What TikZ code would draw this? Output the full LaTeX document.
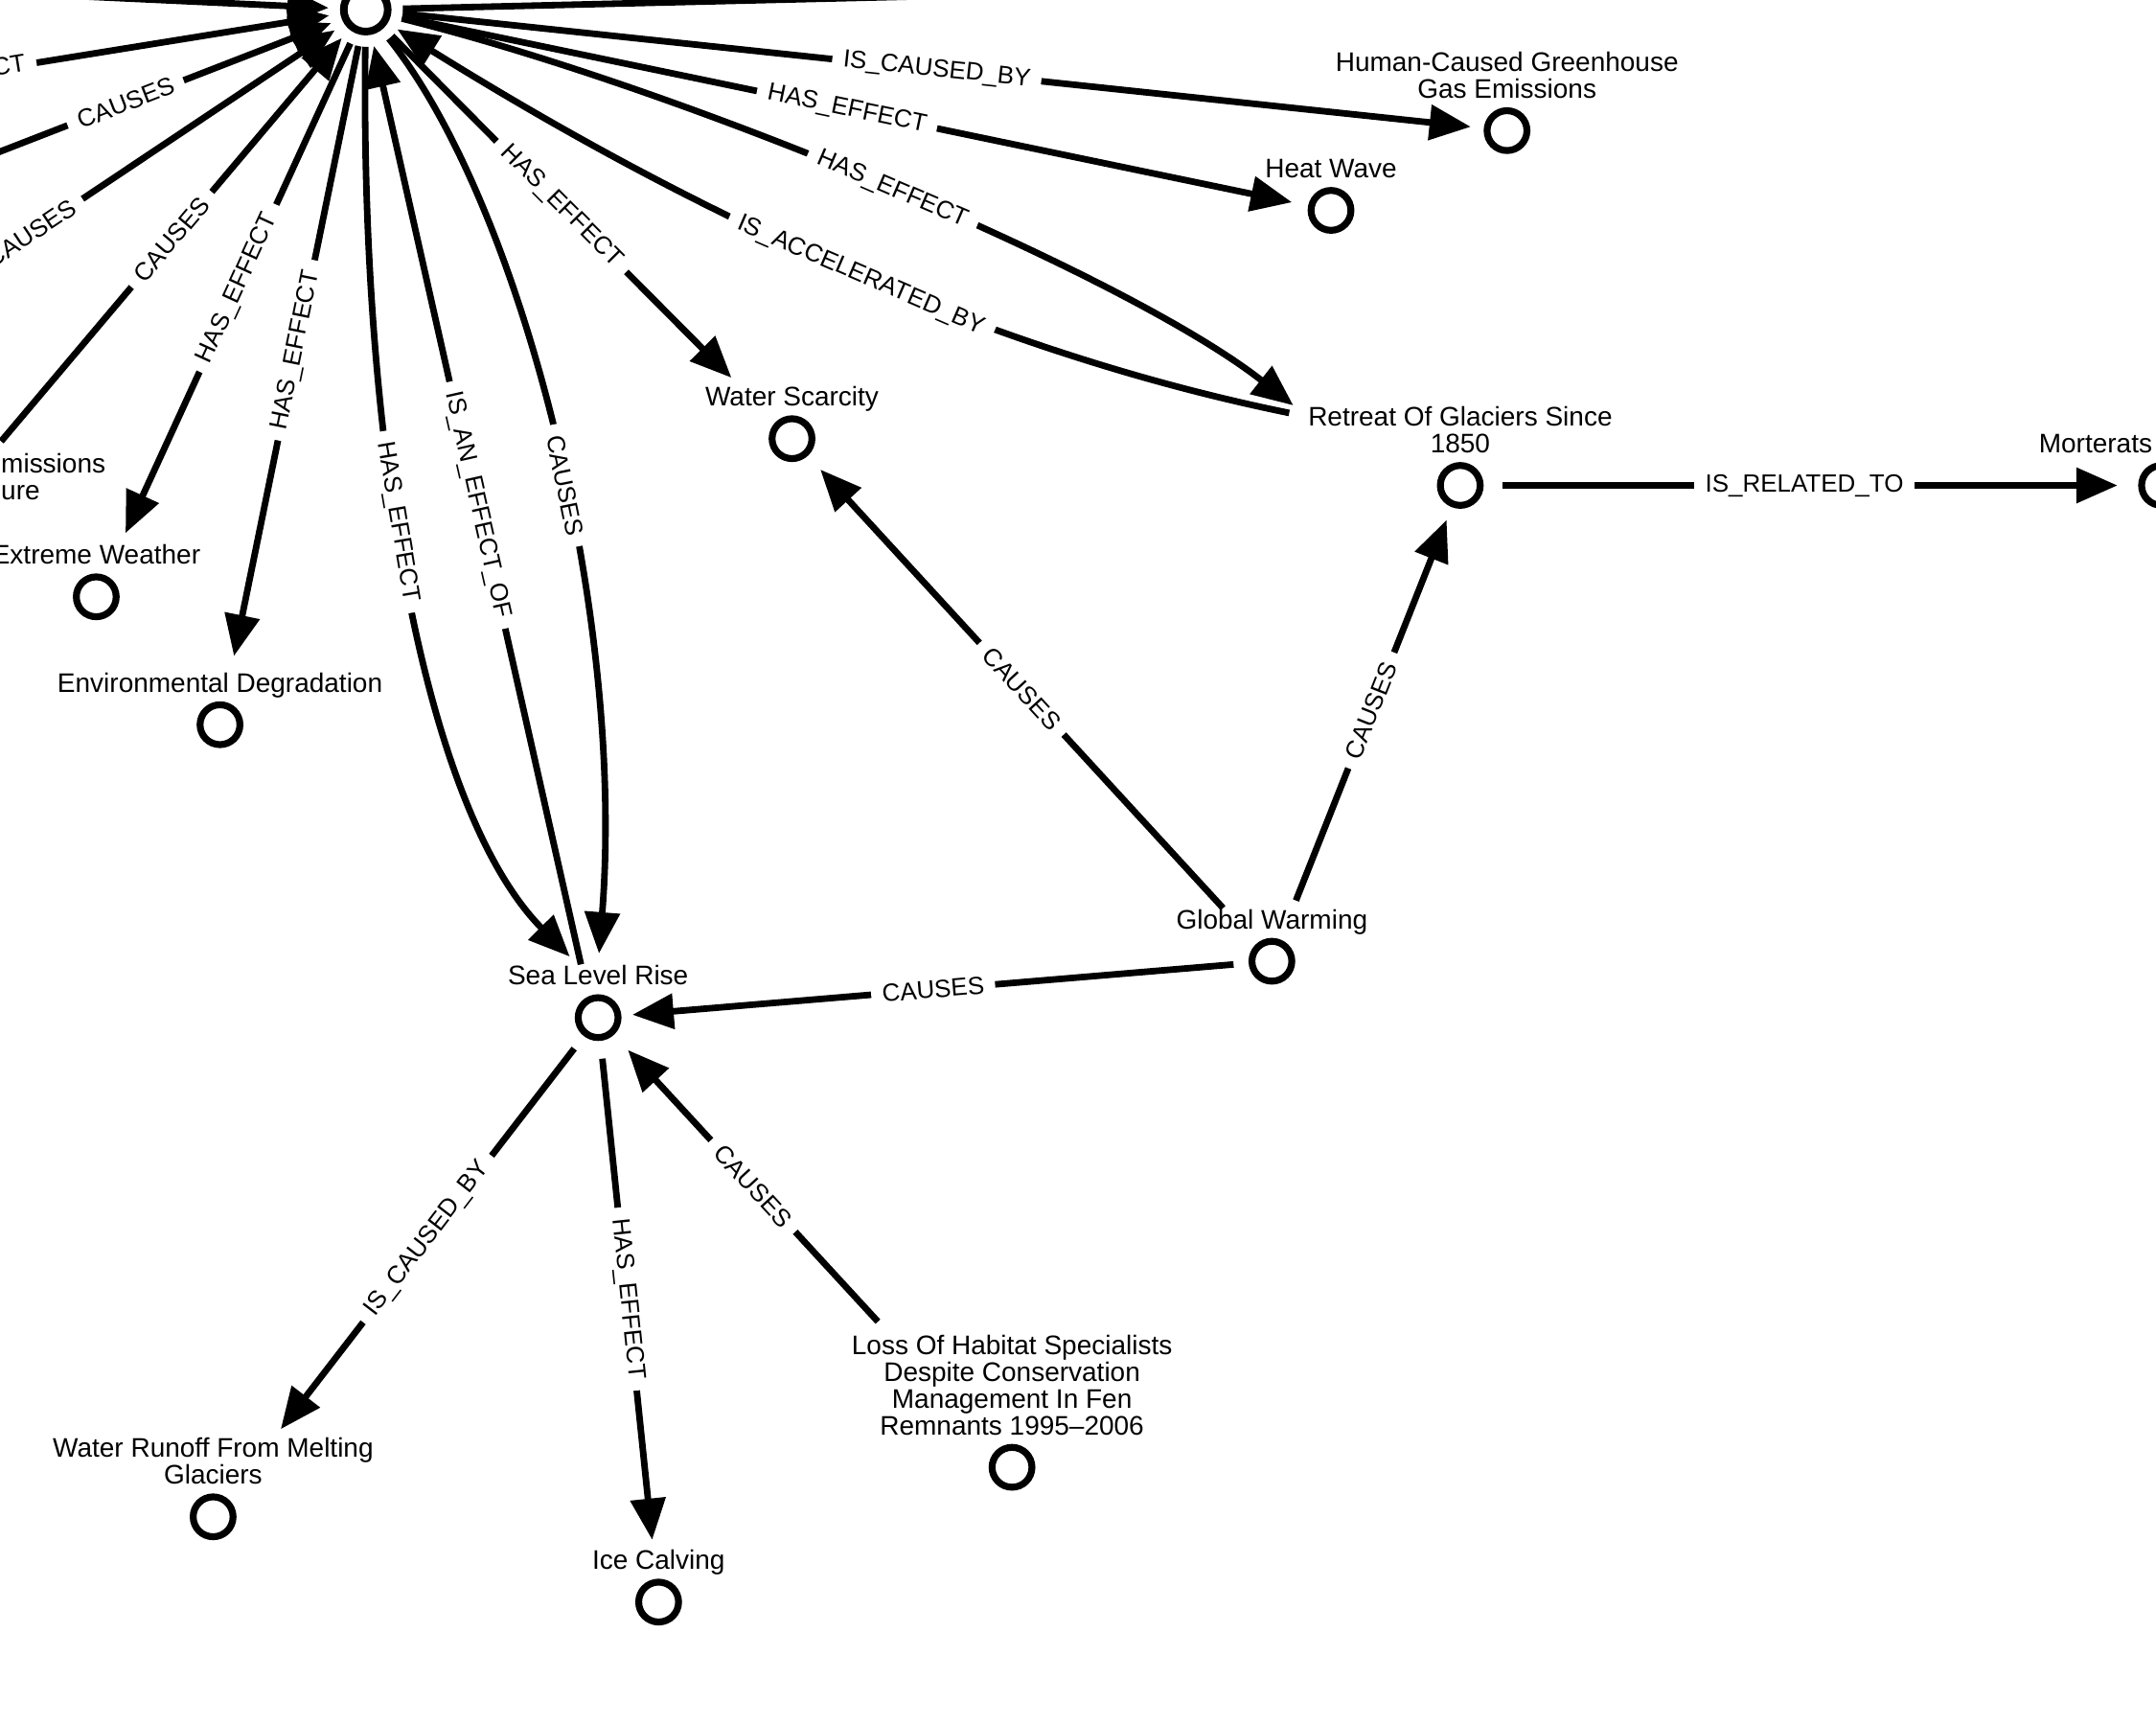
\documentclass[tikz,border=0pt]{standalone}
\usepackage{fontspec}
\setmainfont{Liberation Sans}
\usetikzlibrary{arrows.meta}

\begin{document}
\begin{tikzpicture}[x=0.2mm,y=-0.2mm,
dot/.style={circle,draw,fill=white,line width=1mm,minimum size=5.8mm,inner sep=0pt},
hubdot/.style={circle,draw,fill=white,line width=1.1mm,minimum size=6.4mm,inner sep=0pt,outer sep=2.2mm},
lbl/.style={font=\fontsize{11.1}{11.1}\selectfont,align=center,inner sep=0.1mm,execute at end node=\strut},
rel/.style={line width=0.95mm,-{Triangle[length=6mm,width=5mm]}},
rl/.style={font=\fontsize{10.3}{11}\selectfont,sloped,fill=white,inner xsep=1.6mm,inner ysep=0.4mm}]
\useasboundingbox (0,0) rectangle (1568,1254.4);
\clip (0,0) rectangle (1568,1254.4);

\node[hubdot] (hub) at (266,7) {};
\node[dot,label={[lbl,name=human-l]above:Human-Caused Greenhouse\\Gas Emissions}] (human) at (1096,95) {};
\node[dot,label={[lbl,name=heat-l]above:Heat Wave}] (heat) at (968,153) {};
\node[dot,label={[lbl,name=water-l]above:Water Scarcity}] (water) at (576,319) {};
\node[dot,label={[lbl,name=retreat-l]above:Retreat Of Glaciers Since\\1850}] (retreat) at (1062,353) {};
\node[dot,label={[lbl,name=morte-l,anchor=south west,xshift=-18mm]above:Morterats}] (morte) at (1572,353) {};
\node[dot,label={[lbl,name=extreme-l]above:Extreme Weather}] (extreme) at (70,434) {};
\node[dot,label={[lbl,name=envdeg-l]above:Environmental Degradation}] (envdeg) at (160,527) {};
\node[dot,label={[lbl,name=emis-l,align=left,anchor=south west,xshift=11mm]above:missions\\ure}] (emis) at (-55,387) {};
\node[dot,label={[lbl,name=slr-l]above:Sea Level Rise}] (slr) at (435,740) {};
\node[dot,label={[lbl,name=gw-l]above:Global Warming}] (gw) at (925,699) {};
\node[dot,label={[lbl,name=runoff-l]above:Water Runoff From Melting\\Glaciers}] (runoff) at (155,1103) {};
\node[dot,label={[lbl,name=calving-l]above:Ice Calving}] (calving) at (479,1165) {};
\node[dot,label={[lbl,name=habitat-l]above:Loss Of Habitat Specialists\\Despite Conservation\\Management In Fen\\Remnants 1995--2006}] (habitat) at (736,1067) {};
\node[dot] (src-a) at (-335,104) {};
\node[dot] (src-b) at (-74,139) {};
\node[dot] (src-c) at (-213,327) {};
\node[dot] (src-d) at (-400,-24) {};
\node[dot] (dst-a) at (1400,-20) {};

\draw[rel] (src-d) -- (hub);
\draw[rel] (hub) -- (dst-a);
\draw[rel] (src-a) -- node[rl] (r-srca) {HAS\_EFFECT} (hub);
\draw[rel] (src-b) -- node[rl] (r-srcb) {CAUSES} (hub);
\draw[rel] (src-c) -- node[rl] (r-srcc) {CAUSES} (hub);
\draw[rel,shorten <=13.9mm] (emis) -- node[rl,pos=0.577] (r-emis) {CAUSES} (hub);
\draw[rel,shorten >=6.8mm] (hub) -- node[rl,pos=0.46] (r-extreme) {HAS\_EFFECT} (extreme);
\draw[rel,shorten >=6.8mm] (hub) -- node[rl,pos=0.464] (r-envdeg) {HAS\_EFFECT} (envdeg);
\draw[rel,shorten >=1.6mm] (hub) .. controls (262,330) and (310,590) .. node[rl,pos=0.42] (r-slr1) {HAS\_EFFECT} ([xshift=-3mm]slr-l.north);
\draw[rel] ([xshift=-2.5mm]slr-l.north) -- node[rl] (r-slr2) {IS\_AN\_EFFECT\_OF} (hub);
\draw[rel,shorten >=1.6mm] (hub) .. controls (380,150) and (455,450) .. node[rl,pos=0.55] (r-slr3) {CAUSES} (slr-l.north);
\draw[rel,shorten >=9.1mm] (hub) -- node[rl,pos=0.442] (r-water) {HAS\_EFFECT} (water);
\draw[rel] ([xshift=-2.6mm,yshift=-1.1mm]retreat-l.north west) .. controls (735,259) and (526,169) .. node[rl] (r-acc) {IS\_ACCELERATED\_BY} (hub);
\draw[rel] (hub) .. controls (500,65) and (820,200) .. node[rl] (r-retreat) {HAS\_EFFECT} ([xshift=-2mm]retreat-l.north west);
\draw[rel,shorten >=2.4mm] (hub) -- node[rl,pos=0.491] (r-heat) {HAS\_EFFECT} (heat);
\draw[rel,shorten >=1.9mm] (hub) -- node[rl,pos=0.494] (r-human) {IS\_CAUSED\_BY} (human);
\draw[rel,shorten <=7.1mm,shorten >=2.7mm] (gw) -- node[rl,pos=0.523] (r-gwwater) {CAUSES} (water);
\draw[rel,shorten <=6.1mm,shorten >=2mm] (gw) -- node[rl,pos=0.53] (r-gwretreat) {CAUSES} (retreat);
\draw[rel,shorten <=2.2mm,shorten >=1.6mm] (gw) -- node[rl,pos=0.503] (r-gwslr) {CAUSES} (slr);
\draw[rel,shorten <=2.8mm,shorten >=3mm] (retreat) -- node[rl,pos=0.49] (r-morte) {IS\_RELATED\_TO} (morte);
\draw[rel,shorten <=2.3mm,shorten >=12.7mm] (slr) -- node[rl,pos=0.439] (r-runoff) {IS\_CAUSED\_BY} (runoff);
\draw[rel,shorten <=2.6mm,shorten >=5.7mm] (slr) -- node[rl,pos=0.48] (r-calving) {HAS\_EFFECT} (calving);
\draw[rel,shorten <=25.4mm,shorten >=3mm] (habitat) -- node[rl,pos=0.636] (r-habitat) {CAUSES} (slr);
\end{tikzpicture}
\end{document}
